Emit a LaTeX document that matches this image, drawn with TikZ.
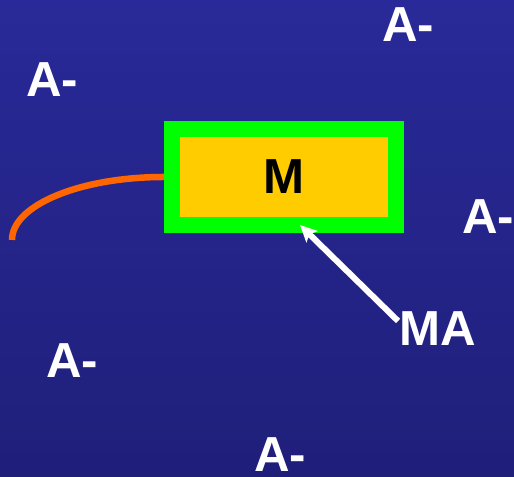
\documentclass[tikz,border=0pt]{standalone}
\usepackage{fontspec}
\setmainfont{Liberation Sans}
\usetikzlibrary{arrows.meta}

\begin{document}
\begin{tikzpicture}

            % Definindo cores
            \definecolor{bgtop}{RGB}{41, 41, 153}     % Azul do topo
            \definecolor{bgbottom}{RGB}{31, 31, 122}  % Azul de baixo
            \definecolor{boxgreen}{RGB}{0, 255, 0}    % Verde da borda
            \definecolor{boxfill}{RGB}{255, 204, 0}   % Amarelo do bloco
            \definecolor{tailcol}{RGB}{255, 102, 0}   % Laranja da cauda

            \tikzset{
                label/.style={text=white, font=\fontsize{28}{30}\selectfont\bfseries},
                pointer/.style={draw=white, line width=0.12cm, -{Stealth[length=9.5pt, width=9pt, inset=2pt]}}
            }

            % 1. Fundo azul degradê
            \useasboundingbox (0,0) rectangle (10.28,9.54);
            \shade[top color=bgtop, bottom color=bgbottom] (0,0) rectangle (10.28,9.54);

            % 2. Bloco M (borda verde grossa)
            \node[draw=boxgreen, fill=boxfill, line width=0.32cm,
                  minimum width=4.48cm, minimum height=1.92cm,
                  font=\fontsize{28}{30}\selectfont\bfseries] (box) at (5.68, 6.0) {M};

            % 3. Cauda laranja saindo do bloco
            \draw[tailcol, line width=0.13cm] (box.west) arc[start angle=90, end angle=180, x radius=3.04cm, y radius=1.26cm] coordinate (tail);

            % 4. Íons A- em volta
            \node[label] (a1) at (8.16, 9.04) {A-};
            \node[label] (a2) at (1.04, 7.94) {A-};
            \node[label] (a3) at (9.76, 5.21) {A-};
            \node[label] (a4) at (1.44, 2.32) {A-};
            \node[label] (a5) at (5.60, 0.45) {A-};

            % 5. Rótulo MA e seta
            \node[label] (ma) at (8.75, 2.96) {MA};
            \draw[pointer] ([xshift=0.1cm, yshift=0.16cm]ma.west) -- ([xshift=0.32cm, yshift=0.16cm]box.south);

\end{tikzpicture}
\end{document}
